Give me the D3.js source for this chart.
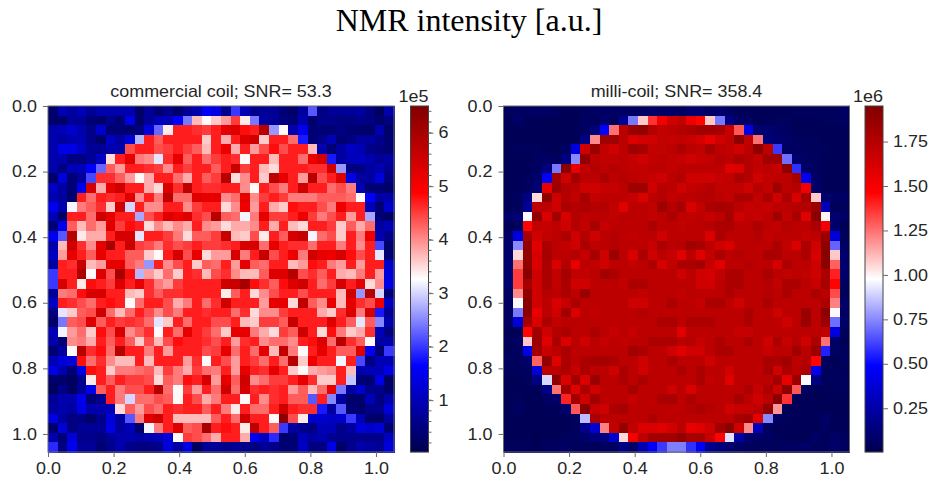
<!DOCTYPE html>
<html><head><meta charset="utf-8">
<script src="https://cdn.jsdelivr.net/npm/d3@7"></script>
<style>
html,body{margin:0;padding:0;background:#fff}
svg{display:block}
text{font-family:"Liberation Sans",Arial,sans-serif;fill:#262626}
</style></head><body>
<svg id="c" width="933" height="480"></svg>
<script>
const mainTitle = "NMR intensity [a.u.]";
const leftTitle = "commercial coil; SNR= 53.3";
const rightTitle = "milli-coil; SNR= 358.4";
const axisTicks = [0, 0.2, 0.4, 0.6, 0.8, 1.0];
const leftBarTicks = [1, 2, 3, 4, 5, 6];
const rightBarTicks = [0.25, 0.5, 0.75, 1.0, 1.25, 1.5, 1.75];
const leftBarRange = [0.03, 6.5];   // ×1e5
const rightBarRange = [0.004, 1.95]; // ×1e6
const seismicStops = ["#00004c", "#0000ff", "#ffffff", "#ff0000", "#800000"];
// commercial coil, units of 1e4
const commercialCoil = [
[3,10,8,10,7,9,9,9,9,3,7,4,6,3,7,9,16,14,6,20,10,6,7,7,4,3,8,22,5,7,7,7,8,5,2,9],
[3,3,7,7,4,3,6,4,14,3,7,10,10,16,24,37,33,36,39,45,34,24,8,7,5,4,9,3,6,6,5,5,6,5,3,5],
[9,10,12,9,6,12,4,4,3,5,13,23,34,47,47,46,45,47,52,53,48,47,58,26,33,9,15,4,4,4,5,4,3,3,9,3],
[9,8,9,10,6,3,11,8,13,28,47,43,47,47,47,47,36,47,38,47,53,55,36,47,47,42,18,4,6,10,4,5,8,8,6,4],
[9,14,14,11,7,7,9,9,44,47,47,44,45,47,45,43,37,47,51,38,47,39,44,48,44,47,47,37,9,4,8,11,10,6,5,4],
[9,9,5,5,7,11,35,47,52,41,40,31,46,52,43,47,42,45,47,46,33,47,47,37,47,47,42,51,54,18,8,10,11,9,7,8],
[9,5,10,10,16,23,43,39,47,47,46,45,40,47,45,47,47,43,47,56,45,47,37,35,47,47,47,46,46,55,26,5,5,8,9,7],
[3,13,4,8,21,46,46,43,39,33,38,47,47,42,38,47,43,45,58,35,40,47,36,57,52,47,39,58,44,47,53,14,8,8,13,5],
[11,8,4,15,54,38,52,55,47,47,38,35,53,46,57,47,46,46,47,47,40,33,47,44,41,47,55,47,47,42,44,41,9,4,4,3],
[9,8,3,47,42,47,46,47,53,40,47,41,57,42,42,53,52,52,40,42,52,40,45,47,45,41,41,41,43,43,43,42,33,16,8,9],
[15,9,32,41,43,46,36,55,30,47,40,40,47,47,40,45,47,47,35,40,51,39,47,38,36,48,47,47,44,41,51,47,47,10,4,12],
[10,3,47,47,42,55,52,47,47,27,44,47,53,51,53,46,44,58,43,42,32,41,52,45,45,47,51,45,41,44,47,39,47,27,4,3],
[4,15,43,37,42,39,53,45,48,47,35,40,37,40,38,47,40,39,35,38,38,40,47,38,47,37,35,47,47,45,36,43,38,42,8,10],
[15,22,58,34,38,38,47,54,54,31,47,47,45,41,35,43,43,45,56,37,36,44,34,47,43,54,56,32,42,44,36,47,41,51,9,6],
[9,37,55,46,40,52,60,47,56,45,44,41,46,44,45,47,45,45,46,47,54,54,42,52,47,46,46,42,47,47,41,47,40,47,21,3],
[11,39,52,47,43,52,47,47,43,43,36,33,47,54,44,52,35,39,39,54,41,47,56,44,47,51,41,55,52,51,54,48,44,47,31,4],
[8,47,46,56,37,39,52,52,43,41,26,47,40,44,47,36,43,42,47,39,52,43,42,47,47,37,39,48,47,41,39,47,39,47,47,12],
[20,47,47,59,33,53,44,60,48,28,39,36,42,36,47,46,37,44,46,40,37,37,43,53,53,58,44,46,43,47,38,37,41,47,39,13],
[20,54,47,34,48,47,45,53,47,52,46,41,39,45,47,47,47,47,55,56,60,48,46,43,48,53,55,47,42,45,54,47,52,35,40,14],
[7,41,42,48,54,54,47,47,37,36,46,43,46,46,47,47,47,47,34,43,47,35,40,44,47,47,44,47,47,47,37,55,26,58,30,4],
[11,47,46,44,42,47,48,47,33,42,47,47,44,38,41,47,42,46,55,47,47,47,39,52,52,35,57,43,40,52,37,52,46,44,51,11],
[5,31,36,43,44,55,42,37,42,47,44,40,44,41,47,47,46,47,47,42,46,35,40,40,45,47,47,47,38,36,46,53,41,54,18,7],
[3,24,43,44,53,43,47,45,46,45,42,31,36,47,42,47,47,44,44,47,37,36,45,45,43,56,47,47,47,53,47,43,31,43,25,9],
[10,32,39,42,36,48,44,54,40,43,46,33,47,42,52,47,45,42,36,52,52,41,38,35,45,43,55,47,35,48,41,36,38,46,10,5],
[9,4,40,41,38,47,43,47,43,36,44,37,44,48,47,47,46,44,47,39,46,47,40,42,42,40,47,48,53,42,58,46,43,33,8,9],
[4,8,33,58,46,48,42,58,47,47,41,47,39,47,47,47,44,45,52,42,47,42,52,37,57,41,33,47,52,47,43,43,53,15,4,20],
[10,13,13,48,42,46,40,37,37,47,37,47,47,47,39,46,33,47,44,39,47,45,42,47,42,58,36,51,47,47,32,47,21,5,10,10],
[14,9,4,14,48,47,36,41,41,42,43,37,45,41,38,45,42,41,47,39,52,47,46,52,47,36,33,38,39,40,47,37,9,10,10,14],
[3,3,2,6,34,47,43,47,45,45,44,35,43,41,48,47,54,39,52,43,55,40,42,45,45,47,52,46,36,36,47,29,4,4,14,3],
[2,6,2,7,15,43,47,41,44,44,47,58,42,33,45,39,47,42,55,42,54,46,47,46,47,39,43,37,42,52,24,8,12,6,6,3],
[7,9,9,15,4,6,47,41,30,42,42,44,43,33,47,44,38,41,47,47,33,47,40,46,47,43,43,22,47,25,8,3,3,10,5,9],
[8,9,8,14,9,9,10,35,43,39,44,42,47,46,47,47,43,47,41,34,47,42,42,47,55,47,46,46,18,8,22,4,3,6,6,13],
[14,8,5,5,3,6,13,8,22,41,53,55,47,37,37,37,37,43,47,42,55,47,47,33,63,44,34,12,12,11,12,20,10,3,3,8],
[3,13,5,7,7,7,14,8,10,3,32,41,47,53,43,44,60,47,48,47,34,57,47,43,20,8,6,5,10,10,6,8,13,12,13,4],
[9,4,13,6,6,5,7,9,9,8,9,10,13,33,45,44,42,38,47,47,38,15,11,19,3,4,10,8,9,7,6,6,6,6,6,11],
[19,5,15,7,7,4,6,9,6,5,5,6,13,8,14,2,7,7,6,7,6,5,7,6,4,4,11,5,5,14,3,6,9,8,7,13]
];
// milli-coil, units of 1e4
const milliCoil = [
[5,6,7,7,7,5,4,4,5,7,7,7,7,6,7,8,7,7,6,10,10,7,9,6,4,4,4,4,4,4,5,5,5,5,5,7],
[3,9,4,3,3,3,3,3,7,4,10,5,20,72,108,137,150,165,170,153,146,108,72,16,7,7,4,4,5,5,4,4,4,5,5,6],
[3,3,3,3,3,3,3,4,6,13,49,125,172,185,188,175,170,172,175,178,183,182,180,168,130,42,10,10,8,6,4,4,4,4,4,4],
[3,3,3,3,3,3,3,4,16,120,183,183,172,160,163,165,170,168,170,168,163,155,165,170,190,170,125,13,10,8,5,5,5,4,4,4],
[3,5,5,5,4,3,7,40,165,185,170,165,172,183,180,168,170,172,178,172,170,180,172,170,165,172,190,172,60,6,6,5,5,5,4,4],
[3,3,3,6,7,5,14,75,188,172,170,170,172,168,165,170,172,170,168,165,168,170,175,172,178,175,170,182,183,70,10,6,5,4,4,4],
[3,4,4,6,14,72,192,155,170,175,172,175,172,170,170,172,172,170,172,172,172,172,172,158,160,175,170,172,168,190,58,8,5,4,4,4],
[3,4,5,9,47,182,165,182,172,172,178,172,175,172,170,168,165,172,175,165,165,165,168,170,178,175,165,170,172,172,180,45,7,4,4,4],
[3,4,6,10,155,185,175,172,165,165,168,168,172,183,183,165,175,172,165,170,172,175,170,170,170,165,175,170,183,172,175,152,8,3,4,4],
[4,6,16,105,190,165,175,170,180,170,172,172,172,168,160,172,175,170,172,172,175,175,172,170,178,178,170,178,165,178,160,180,108,10,7,7],
[3,5,20,172,172,165,178,175,178,175,175,170,158,172,172,170,183,175,180,160,170,178,180,178,172,168,170,168,172,172,175,175,185,30,4,5],
[9,11,97,188,160,182,162,175,172,172,172,170,172,172,172,170,172,178,172,170,172,168,172,180,165,170,168,172,182,170,180,158,192,100,10,7],
[4,5,146,170,168,172,165,175,170,180,168,172,172,172,172,178,172,172,170,172,172,175,178,178,172,172,178,172,170,175,172,172,178,150,9,3],
[8,40,180,165,170,172,178,165,175,165,172,175,172,170,172,172,165,172,172,172,172,160,178,172,172,172,175,170,172,172,172,170,172,185,38,5],
[9,75,188,158,178,172,170,165,178,172,172,175,172,172,172,168,178,172,175,182,180,172,165,160,172,172,172,172,178,170,160,178,165,190,68,7],
[8,105,188,162,180,172,172,175,168,180,165,185,172,160,178,165,172,168,158,172,158,170,178,172,175,172,172,180,178,172,172,178,162,192,108,9],
[10,125,188,160,178,160,175,155,172,170,165,172,172,170,172,178,162,170,178,178,182,168,158,172,172,175,172,172,162,178,172,172,165,190,128,9],
[10,135,192,165,178,170,180,170,170,172,182,178,172,172,172,172,172,172,165,172,165,162,170,178,178,172,172,178,172,170,172,170,165,178,140,9],
[10,135,180,165,178,170,178,165,165,172,172,172,170,178,178,172,172,172,172,172,165,165,172,178,178,172,172,175,170,178,178,172,168,180,146,6],
[6,120,188,165,175,172,178,172,185,172,172,172,172,172,170,172,172,172,170,172,172,172,172,178,172,172,172,175,172,178,172,172,178,172,132,5],
[6,97,192,165,172,160,168,178,172,172,172,172,172,165,165,172,172,178,172,172,168,178,178,172,165,172,172,178,172,172,172,172,172,178,122,8],
[6,72,192,155,172,165,182,160,172,170,172,172,172,172,175,172,172,172,172,172,172,172,172,172,172,178,172,172,165,172,172,185,172,190,97,7],
[7,38,180,160,178,170,172,172,172,172,172,172,172,172,172,172,178,178,172,178,178,178,172,172,172,178,172,172,172,165,172,185,172,185,70,8],
[3,3,146,182,165,175,178,172,172,178,172,168,172,168,172,172,172,172,158,172,172,172,172,172,168,168,172,172,172,172,172,172,172,170,40,5],
[5,6,108,185,158,178,160,172,165,172,168,172,170,172,172,178,178,178,172,175,168,172,178,172,172,178,172,165,178,168,175,165,178,125,8,3],
[3,6,42,182,168,172,178,172,172,172,172,172,172,182,178,172,172,165,158,165,165,172,178,178,172,172,172,168,172,172,182,172,185,55,6,5],
[5,5,9,128,188,158,178,172,178,180,180,178,172,172,165,172,172,178,172,172,172,165,172,172,172,172,172,178,178,182,172,175,146,5,3,5],
[5,5,5,38,172,172,178,168,178,172,172,165,178,172,165,172,172,172,178,172,178,172,172,165,172,172,172,180,165,178,172,178,44,5,5,4],
[3,4,5,15,90,190,160,182,160,185,172,172,178,172,178,172,172,172,172,172,178,170,172,158,172,172,172,172,182,155,185,97,15,5,5,5],
[3,4,4,4,16,125,182,158,178,165,172,172,172,180,172,172,172,165,172,160,172,172,172,172,172,178,168,178,165,190,130,6,4,3,5,5],
[3,5,3,3,7,8,140,182,165,182,172,172,172,168,172,172,178,180,172,178,172,172,172,172,180,172,165,172,192,137,4,4,3,4,3,3],
[3,6,3,3,4,4,10,130,192,168,165,178,180,172,172,172,172,172,172,175,178,175,172,165,168,168,172,188,118,3,3,4,4,3,3,3],
[3,4,3,3,3,3,4,6,85,178,172,172,172,172,172,178,172,172,172,172,172,172,172,172,180,182,158,75,6,5,4,3,4,8,4,4],
[3,3,4,3,3,3,3,5,18,36,122,170,188,170,160,160,158,165,172,155,158,165,182,190,165,120,30,5,4,4,4,4,3,6,4,4],
[3,3,4,2,4,4,5,5,9,13,15,35,105,150,172,182,182,182,188,180,180,168,146,92,25,10,7,7,4,3,3,3,8,4,8,5],
[5,5,5,3,6,6,7,5,5,4,6,6,16,8,28,47,60,73,73,58,47,18,14,10,7,5,5,5,5,6,6,8,5,5,8,6]
];

const svg = d3.select("#c");
const spine = "#6a6a6a";
const plotTop = 106, plotBottom = 452, plotW = 346;
const xMax = 1.055;
const fontPx = 16, widen = 1.12;

svg.append("text").attr("x", 469).attr("y", 31).attr("text-anchor", "middle")
  .style("font-family", '"Liberation Serif","Times New Roman",serif').style("fill", "#000")
  .style("font-size", "32px").text(mainTitle);

function colorScale(range) {
  const d = d3.range(5).map(i => range[0] + (range[1] - range[0]) * i / 4);
  return d3.scaleLinear().domain(d).range(seismicStops).clamp(true);
}

// the reference's sans text is slightly stretched horizontally
function widenAbout(sel, xOf) {
  sel.attr("transform", function () {
    const x = xOf(this);
    return `translate(${x},0) scale(${widen},1) translate(${-x},0)`;
  });
}

function styleAxis(g) {
  g.selectAll("path.domain").remove();
  g.selectAll(".tick line").attr("stroke", spine).attr("stroke-width", 1);
  g.selectAll(".tick text").style("font-size", fontPx + "px").style("fill", "#262626")
    .call(widenAbout, n => +n.getAttribute("x") || 0);
}

function panel(left, rows, unit, range, title, barLeft, barTicks, barFmt, offset, minorStep) {
  const color = colorScale(range);
  const g = svg.append("g");
  const band = d3.scaleBand().domain(d3.range(rows.length)).range([0, plotW]);
  const cells = rows.flatMap((row, r) => row.map((v, c) => ({r, c, v: v * unit})));
  const cellG = g.append("g").style("filter", "blur(0.4px)").attr("shape-rendering", "crispEdges");
  cellG.selectAll("rect").data(cells).join("rect")
    .attr("x", d => left + band(d.c)).attr("y", d => plotTop + band(d.r))
    .attr("width", band.bandwidth() + 0.5).attr("height", band.bandwidth() + 0.5)
    .attr("fill", d => color(d.v));
  g.append("rect").attr("x", left).attr("y", plotTop).attr("width", plotW).attr("height", plotW)
    .attr("fill", "none").attr("stroke", spine).attr("stroke-width", 1);
  const x = d3.scaleLinear().domain([0, xMax]).range([left, left + plotW]);
  const y = d3.scaleLinear().domain([0, xMax]).range([plotTop, plotBottom]);
  g.append("g").attr("transform", `translate(0,${plotBottom})`)
    .call(d3.axisBottom(x).tickValues(axisTicks).tickFormat(d3.format(".1f")).tickSize(5).tickPadding(6))
    .call(styleAxis);
  g.append("g").attr("transform", `translate(${left},0)`)
    .call(d3.axisLeft(y).tickValues(axisTicks).tickFormat(d3.format(".1f")).tickSize(5).tickPadding(6))
    .call(styleAxis);
  const tx = left + plotW / 2;
  g.append("text").attr("x", tx).attr("y", 97).attr("text-anchor", "middle")
    .style("font-size", fontPx + "px").text(title)
    .call(widenAbout, () => tx);

  // colour bar
  const barW = 18;
  const bar = d3.scaleLinear().domain(range).range([plotBottom, plotTop]);
  const steps = d3.range(plotW);
  g.selectAll("rect.bar").data(steps).join("rect").attr("class", "bar")
    .attr("x", barLeft).attr("y", d => plotTop + d).attr("width", barW).attr("height", 1.2)
    .attr("fill", d => color(bar.invert(plotTop + d + 0.5)));
  g.append("rect").attr("x", barLeft).attr("y", plotTop).attr("width", barW).attr("height", plotW)
    .attr("fill", "none").attr("stroke", "#444").attr("stroke-width", 1);
  const axisG = g.append("g").attr("transform", `translate(${barLeft + barW},0)`);
  axisG.call(d3.axisRight(bar).tickValues(barTicks).tickFormat(barFmt).tickSize(5).tickPadding(5)).call(styleAxis);
  if (minorStep) {
    const minor = d3.range(Math.ceil(range[0] / minorStep) * minorStep, range[1], minorStep);
    g.selectAll("line.minor").data(minor).join("line").attr("class", "minor")
      .attr("x1", barLeft + barW).attr("x2", barLeft + barW + 3)
      .attr("y1", d => bar(d)).attr("y2", d => bar(d)).attr("stroke", spine);
  }
  const ox = barLeft + barW;
  g.append("text").attr("x", ox).attr("y", 102).attr("text-anchor", "end")
    .style("font-size", fontPx + "px").text(offset)
    .call(widenAbout, () => ox);
}

panel(48, commercialCoil, 0.1, leftBarRange, leftTitle, 410.5, leftBarTicks, d3.format("d"), "1e5", 0.2);
panel(503.5, milliCoil, 0.01, rightBarRange, rightTitle, 865, rightBarTicks, d3.format(".2f"), "1e6", 0);
</script>
</body></html>
